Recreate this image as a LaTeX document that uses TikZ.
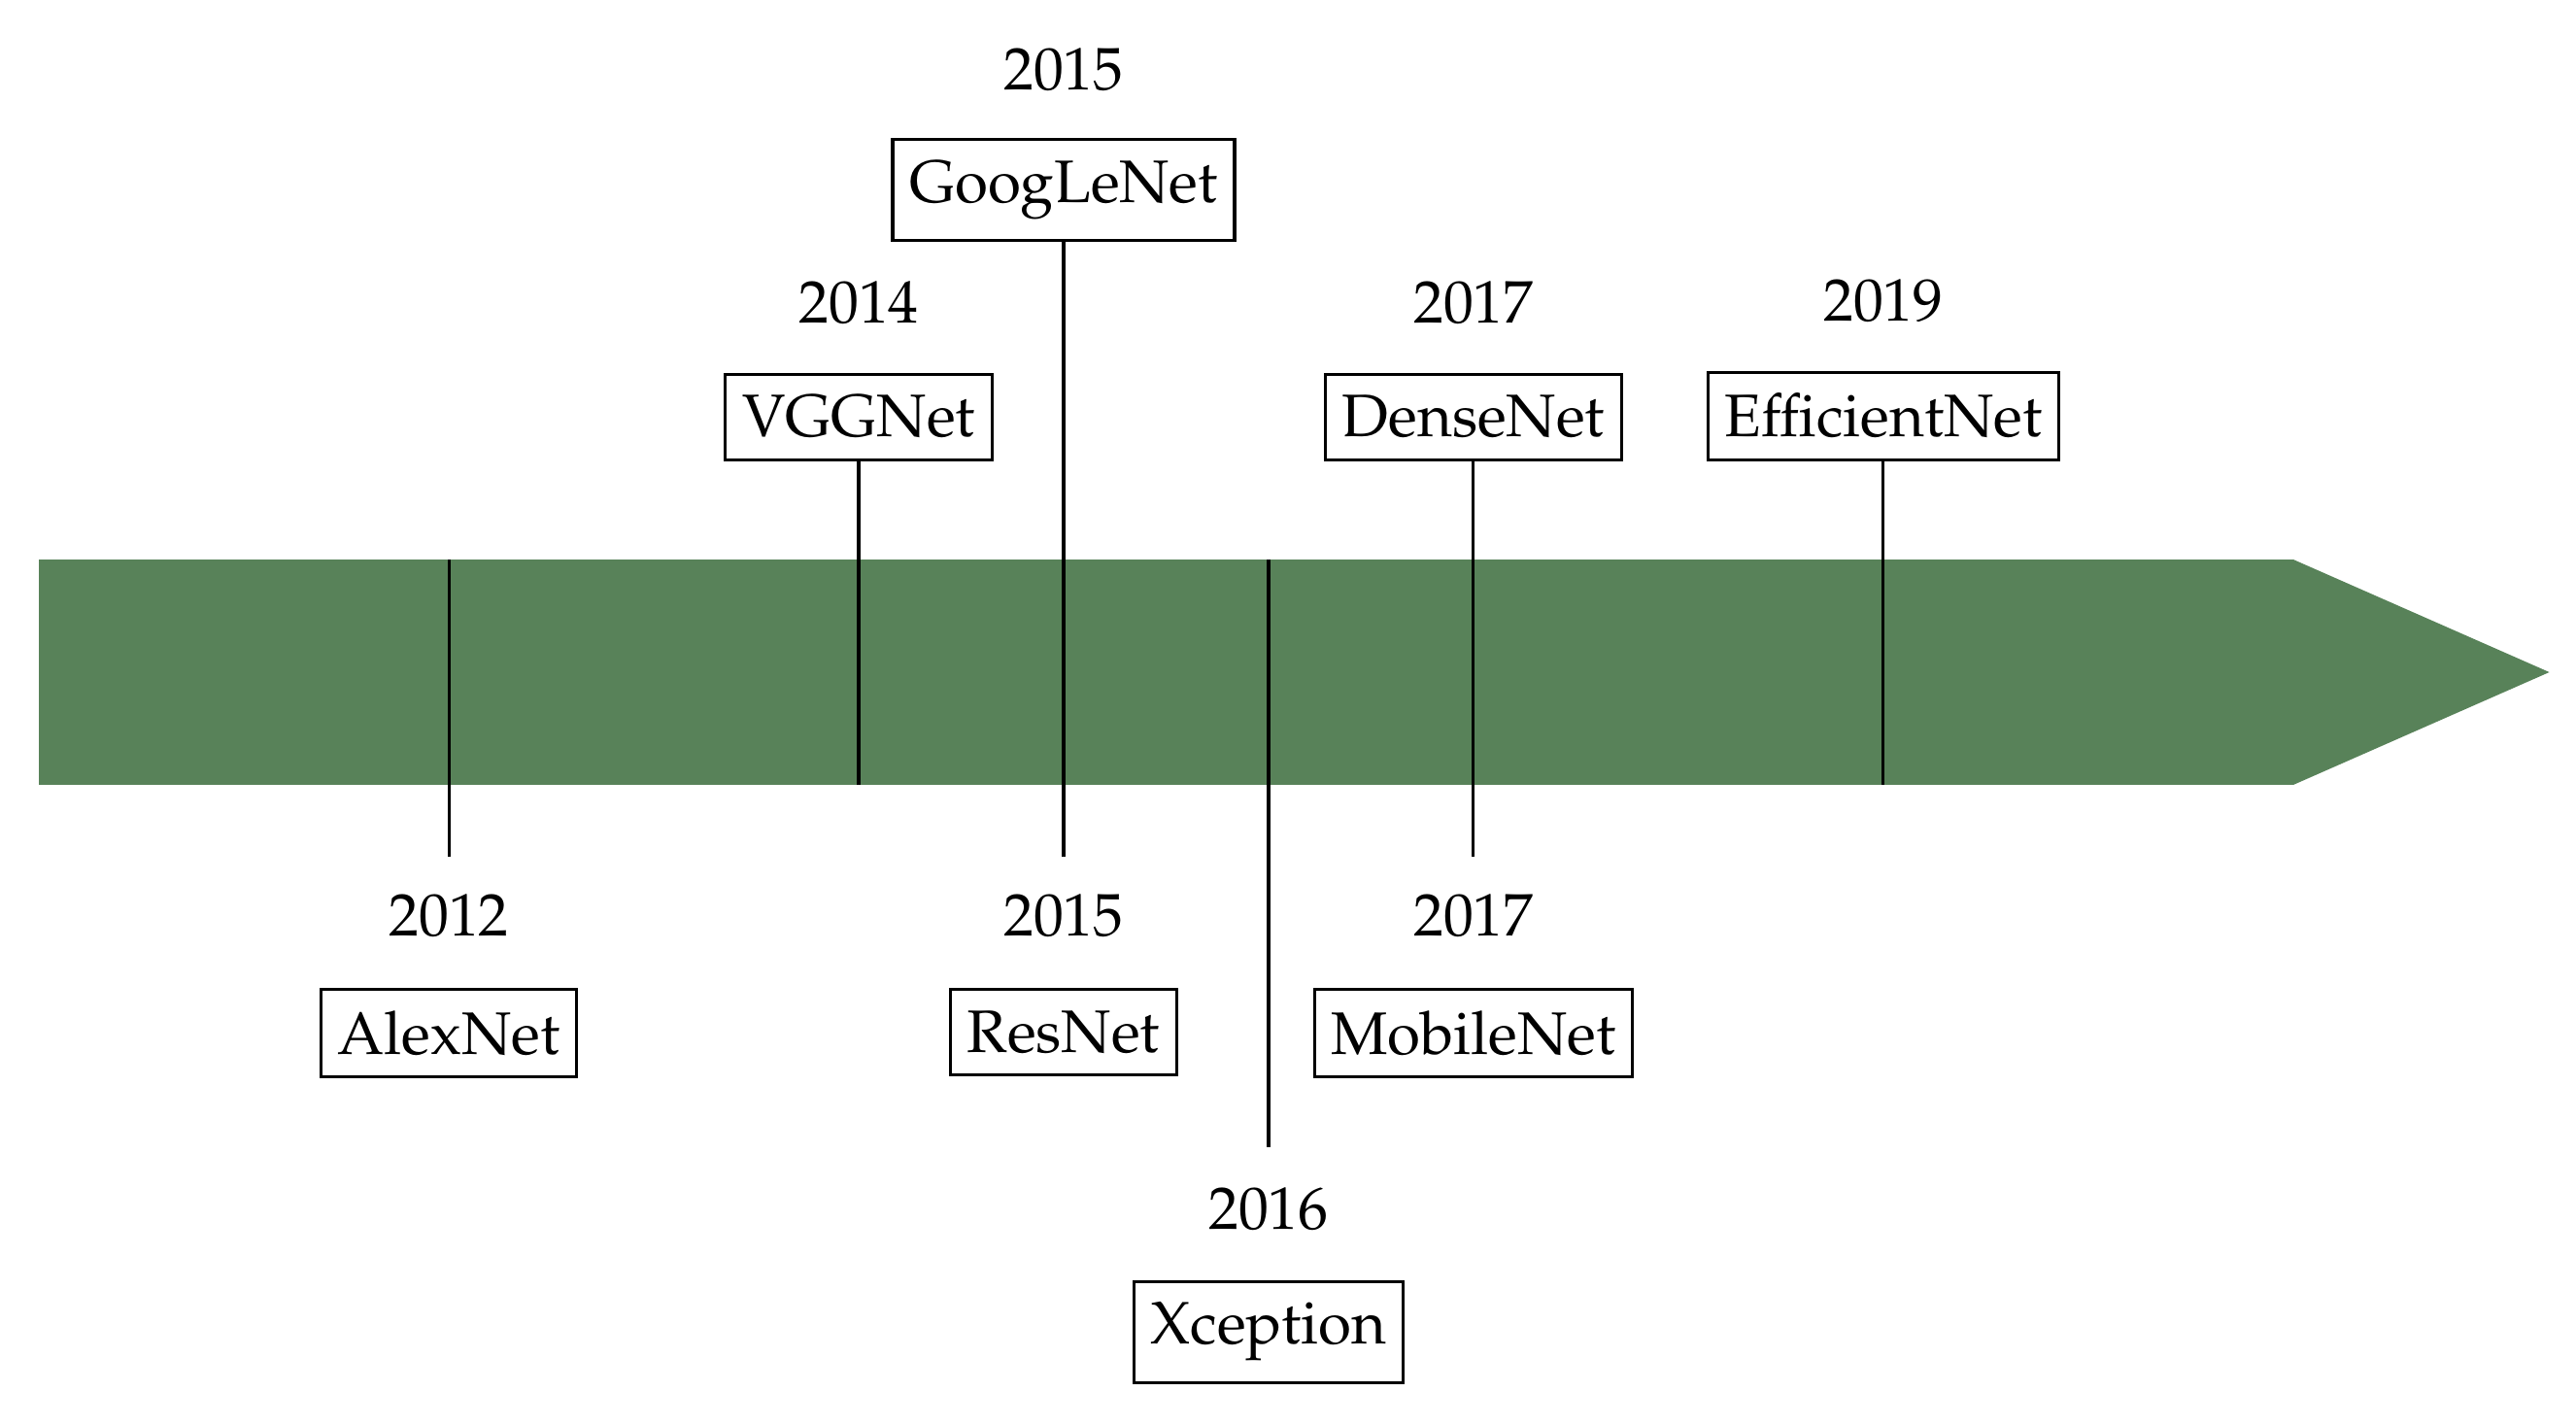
\documentclass[tikz,border=0pt]{standalone}
\usepackage[T1]{fontenc}
\usepackage{mathpazo}
\usetikzlibrary{positioning}
\definecolor{bandgreen}{RGB}{88,130,89}

\begin{document}
\begin{tikzpicture}[x=1.2cm, y=1.2cm, line width=0.5pt,
		netbox/.style={draw, fill=white, inner xsep=2.8pt, inner ysep=3.55pt},
		yearlabel/.style={inner sep=1pt}]
			\useasboundingbox (-0.19,-3.67) rectangle (12.38,3.28);
			% timeline band and arrow head
			\fill[bandgreen] (0,-0.55) rectangle (11,0.55);
			\fill[bandgreen] (11,0.55) -- (12.25,0) -- (11,-0.55) -- cycle;
			% models above the band
			\node[netbox, anchor=south] (vggnet) at (4,1.03) {VGGNet};
			\node[yearlabel] (y2014) at (4,1.80) {2014};
			\node[netbox, anchor=south] (googlenet) at (5,2.10) {GoogLeNet};
			\node[yearlabel] (y2015a) at (5,2.94) {2015};
			\node[netbox, anchor=south] (densenet) at (7,1.03) {DenseNet};
			\node[yearlabel] (y2017a) at (7,1.80) {2017};
			\node[netbox, anchor=south] (efficientnet) at (9,1.03) {EfficientNet};
			\node[yearlabel] (y2019) at (9,1.81) {2019};
			% models below the band
			\node[yearlabel] (y2012) at (2,-1.19) {2012};
			\node[netbox, anchor=north] (alexnet) at (2,-1.54) {AlexNet};
			\node[yearlabel] (y2015b) at (5,-1.19) {2015};
			\node[netbox, anchor=north] (resnet) at (5,-1.54) {ResNet};
			\node[yearlabel] (y2017b) at (7,-1.19) {2017};
			\node[netbox, anchor=north] (mobilenet) at (7,-1.54) {MobileNet};
			\node[yearlabel] (y2016) at (6,-2.62) {2016};
			\node[netbox, anchor=north] (xception) at (6,-2.965) {Xception};
			% ends of the ticks
			\coordinate (alextop) at (2,0.55);
			\coordinate (alexend) at (2,-0.9);
			\coordinate (vggend) at (4,-0.55);
			\coordinate (googend) at (5,-0.9);
			\coordinate (xcepttop) at (6,0.55);
			\coordinate (xceptend) at (6,-2.32);
			\coordinate (denseend) at (7,-0.9);
			\coordinate (effend) at (9,-0.55);
			% ticks
			\draw (alextop) -- (alexend);
			\draw (vggnet.south) -- (vggend);
			\draw (googlenet.south) -- (googend);
			\draw (xcepttop) -- (xceptend);
			\draw (densenet.south) -- (denseend);
			\draw (efficientnet.south) -- (effend);
	\end{tikzpicture}
\end{document}
